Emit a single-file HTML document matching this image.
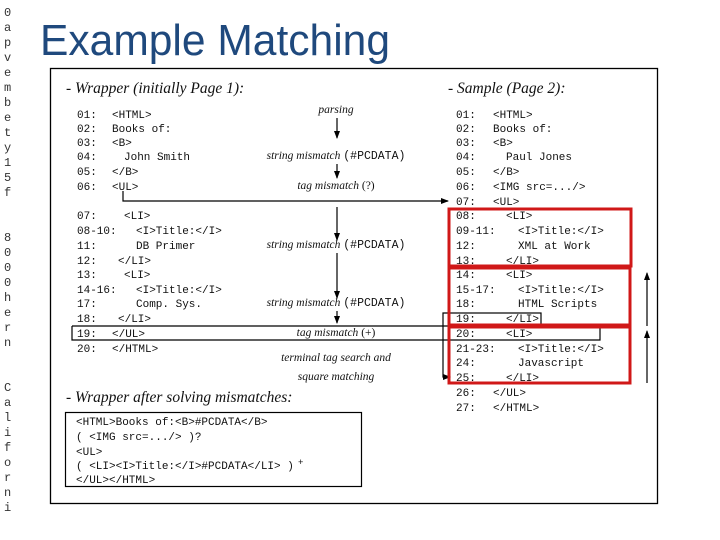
<!DOCTYPE html>
<html><head><meta charset="utf-8"><style>
body{margin:0;background:#fff;}
svg{display:block;}
.m{font-family:"Liberation Mono",monospace;font-size:11px;fill:#111;white-space:pre;}
.i{font-family:"Liberation Serif",serif;font-style:italic;fill:#111;}
.s{font-family:"Liberation Mono",monospace;font-size:12px;fill:#333;}
</style></head><body>
<svg width="720" height="540" viewBox="0 0 720 540" xmlns="http://www.w3.org/2000/svg" xml:space="preserve">
<defs><marker id="a" markerWidth="8" markerHeight="6" refX="7" refY="3" orient="auto" markerUnits="userSpaceOnUse"><path d="M0,0 L8,3 L0,6 z" fill="#000"/></marker></defs>
<g class="s">
<text x="4" y="16">0</text><text x="4" y="31">a</text><text x="4" y="46">p</text><text x="4" y="61">v</text><text x="4" y="76">e</text><text x="4" y="91">m</text><text x="4" y="106">b</text><text x="4" y="121">e</text><text x="4" y="136">t</text><text x="4" y="151">y</text><text x="4" y="166">1</text><text x="4" y="181">5</text><text x="4" y="196">f</text>
<text x="4" y="241">8</text><text x="4" y="256">0</text><text x="4" y="271">0</text><text x="4" y="286">0</text><text x="4" y="301">h</text><text x="4" y="316">e</text><text x="4" y="331">r</text><text x="4" y="346">n</text>
<text x="4" y="391">C</text><text x="4" y="406">a</text><text x="4" y="421">l</text><text x="4" y="436">i</text><text x="4" y="451">f</text><text x="4" y="466">o</text><text x="4" y="481">r</text><text x="4" y="496">n</text><text x="4" y="511">i</text>
</g>
<text x="40" y="55" font-family="Liberation Sans, sans-serif" font-size="44" fill="#1f497d" textLength="350" lengthAdjust="spacingAndGlyphs">Example Matching</text>
<rect x="50.5" y="68.5" width="607" height="435" fill="none" stroke="#000" stroke-width="1.3"/>
<text class="i" x="66" y="93" font-size="15.5">- Wrapper (initially Page 1):</text>
<text class="i" x="448" y="93" font-size="15.5">- Sample (Page 2):</text>
<text class="i" x="66" y="402" font-size="15.5">- Wrapper after solving mismatches:</text>
<g class="m">
<text x="77" y="118">01:</text><text x="112" y="118">&lt;HTML&gt;</text>
<text x="77" y="132">02:</text><text x="112" y="132">Books of:</text>
<text x="77" y="146">03:</text><text x="112" y="146">&lt;B&gt;</text>
<text x="77" y="160">04:</text><text x="124" y="160">John Smith</text>
<text x="77" y="175">05:</text><text x="112" y="175">&lt;/B&gt;</text>
<text x="77" y="190">06:</text><text x="112" y="190">&lt;UL&gt;</text>
<text x="77" y="219">07:</text><text x="124" y="219">&lt;LI&gt;</text>
<text x="77" y="234">08-10:</text><text x="136" y="234">&lt;I&gt;Title:&lt;/I&gt;</text>
<text x="77" y="249">11:</text><text x="136" y="249">DB Primer</text>
<text x="77" y="264">12:</text><text x="118" y="264">&lt;/LI&gt;</text>
<text x="77" y="278">13:</text><text x="124" y="278">&lt;LI&gt;</text>
<text x="77" y="293">14-16:</text><text x="136" y="293">&lt;I&gt;Title:&lt;/I&gt;</text>
<text x="77" y="307">17:</text><text x="136" y="307">Comp.  Sys.</text>
<text x="77" y="322">18:</text><text x="118" y="322">&lt;/LI&gt;</text>
<text x="77" y="337">19:</text><text x="112" y="337">&lt;/UL&gt;</text>
<text x="77" y="352">20:</text><text x="112" y="352">&lt;/HTML&gt;</text>

<text x="456" y="118">01:</text><text x="493" y="118">&lt;HTML&gt;</text>
<text x="456" y="132">02:</text><text x="493" y="132">Books of:</text>
<text x="456" y="146">03:</text><text x="493" y="146">&lt;B&gt;</text>
<text x="456" y="160">04:</text><text x="506" y="160">Paul Jones</text>
<text x="456" y="175">05:</text><text x="493" y="175">&lt;/B&gt;</text>
<text x="456" y="190">06:</text><text x="493" y="190">&lt;IMG src=.../&gt;</text>
<text x="456" y="205">07:</text><text x="493" y="205">&lt;UL&gt;</text>
<text x="456" y="219">08:</text><text x="506" y="219">&lt;LI&gt;</text>
<text x="456" y="234">09-11:</text><text x="518" y="234">&lt;I&gt;Title:&lt;/I&gt;</text>
<text x="456" y="249">12:</text><text x="518" y="249">XML at Work</text>
<text x="456" y="264">13:</text><text x="506" y="264">&lt;/LI&gt;</text>
<text x="456" y="278">14:</text><text x="506" y="278">&lt;LI&gt;</text>
<text x="456" y="293">15-17:</text><text x="518" y="293">&lt;I&gt;Title:&lt;/I&gt;</text>
<text x="456" y="307">18:</text><text x="518" y="307">HTML Scripts</text>
<text x="456" y="322">19:</text><text x="506" y="322">&lt;/LI&gt;</text>
<text x="456" y="337">20:</text><text x="506" y="337">&lt;LI&gt;</text>
<text x="456" y="352">21-23:</text><text x="518" y="352">&lt;I&gt;Title:&lt;/I&gt;</text>
<text x="456" y="366">24:</text><text x="518" y="366">Javascript</text>
<text x="456" y="381">25:</text><text x="506" y="381">&lt;/LI&gt;</text>
<text x="456" y="396">26:</text><text x="493" y="396">&lt;/UL&gt;</text>
<text x="456" y="411">27:</text><text x="493" y="411">&lt;/HTML&gt;</text>
</g>
<g class="i" font-size="11.5" text-anchor="middle">
<text x="336" y="113">parsing</text>
<text x="336" y="159">string mismatch <tspan font-family="Liberation Mono" font-style="normal">(#PCDATA)</tspan></text>
<text x="336" y="189">tag mismatch <tspan font-style="normal">(?)</tspan></text>
<text x="336" y="248">string mismatch <tspan font-family="Liberation Mono" font-style="normal">(#PCDATA)</tspan></text>
<text x="336" y="306">string mismatch <tspan font-family="Liberation Mono" font-style="normal">(#PCDATA)</tspan></text>
<text x="336" y="336">tag mismatch <tspan font-style="normal">(+)</tspan></text>
<text x="336" y="361">terminal tag search and</text>
<text x="336" y="380">square matching</text>
</g>
<g stroke="#000" stroke-width="1.2" fill="none">
<line x1="337" y1="118" x2="337" y2="138" marker-end="url(#a)"/>
<line x1="337" y1="164" x2="337" y2="178" marker-end="url(#a)"/>
<line x1="337" y1="207" x2="337" y2="240" marker-end="url(#a)"/>
<line x1="337" y1="253" x2="337" y2="298" marker-end="url(#a)"/>
<line x1="337" y1="311" x2="337" y2="323" marker-end="url(#a)"/>
<polyline points="123,191 123,201 448,201" marker-end="url(#a)"/>
<polyline points="72,326 600,326 600,340 72,340 72,326"/>
<rect x="449" y="313" width="92" height="14"/>
<polyline points="449,313 443,313 443,377 450,377" marker-end="url(#a)"/>
<line x1="647" y1="326" x2="647" y2="273" marker-end="url(#a)"/>
<line x1="647" y1="383" x2="647" y2="331" marker-end="url(#a)"/>
<rect x="65.5" y="412.5" width="296" height="74"/>
</g>
<g stroke="#d01818" stroke-width="3" fill="none">
<rect x="449" y="209" width="182" height="57"/>
<rect x="449" y="268" width="181" height="57"/>
<rect x="449" y="327" width="181" height="56"/>
</g>
<g class="m" font-size="10.5">
<text x="76" y="425">&lt;HTML&gt;Books of:&lt;B&gt;#PCDATA&lt;/B&gt;</text>
<text x="76" y="440"> ( &lt;IMG src=.../&gt; )?</text>
<text x="76" y="455">&lt;UL&gt;</text>
<text x="76" y="469"> ( &lt;LI&gt;&lt;I&gt;Title:&lt;/I&gt;#PCDATA&lt;/LI&gt;  )</text>
<text x="298" y="465" font-size="9">+</text>
<text x="76" y="483">&lt;/UL&gt;&lt;/HTML&gt;</text>
</g>
</svg>
</body></html>
